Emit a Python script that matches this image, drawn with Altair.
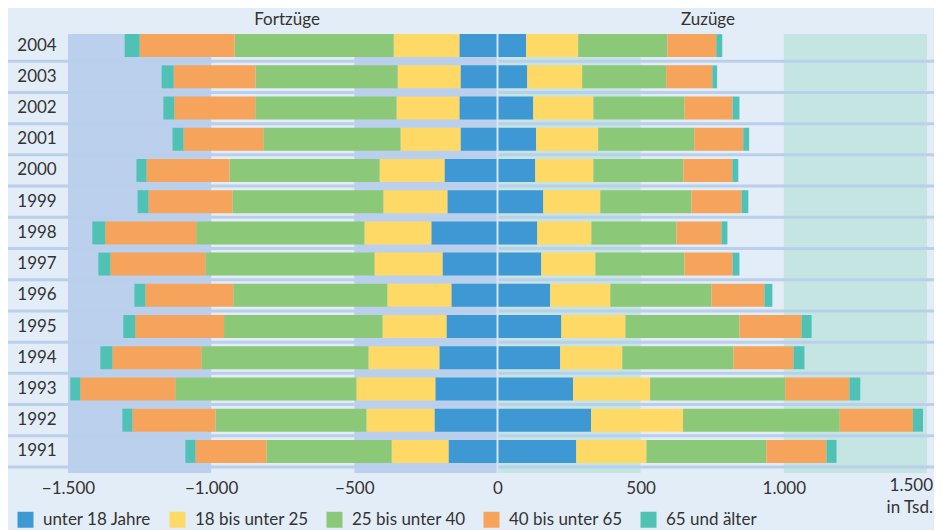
import altair as alt
import pandas as pd

years = [2004, 2003, 2002, 2001, 2000, 1999, 1998, 1997, 1996, 1995, 1994, 1993, 1992, 1991]
groups = ["unter 18 Jahre", "18 bis unter 25", "25 bis unter 40", "40 bis unter 65", "65 und älter"]
colors = ["#3d98d3", "#ffd966", "#8bc878", "#f6a35c", "#50c2b5"]

# Fortzüge (Tsd.)
out_u18 = [133, 129, 133, 129, 185, 175, 231, 192, 161, 178, 203, 217, 220, 171]
out_18_25 = [230, 220, 220, 210, 227, 224, 234, 238, 224, 224, 248, 276, 238, 199]
out_25_40 = [555, 496, 493, 479, 524, 527, 587, 590, 538, 553, 583, 632, 527, 437]
out_40_65 = [332, 286, 283, 279, 290, 293, 318, 332, 307, 310, 311, 332, 290, 248]
out_65 = [52, 42, 38, 38, 35, 38, 45, 42, 38, 42, 42, 35, 35, 35]

# Zuzüge (Tsd.)
in_u18 = [100, 104, 125, 135, 132, 160, 139, 153, 184, 223, 219, 264, 327, 275]
in_18_25 = [182, 192, 210, 217, 203, 199, 189, 189, 210, 224, 217, 269, 321, 245]
in_25_40 = [311, 293, 318, 335, 314, 318, 297, 311, 353, 398, 388, 472, 547, 419]
in_40_65 = [171, 161, 168, 171, 171, 175, 157, 168, 185, 217, 210, 224, 256, 210]
in_65 = [21, 17, 24, 21, 21, 24, 21, 24, 28, 35, 38, 38, 35, 35]

tick_values = [-1500, -1000, -500, 0, 500, 1000]
last_tick = "1.500"
unit_label = "in Tsd."
band_starts = [-1500, -500, 0, 1000]
band_ends = [-1000, 0, 500, 1500]
band_fills = ["#bad0ec", "#bad0ec", "#c5e5e3", "#c5e5e3"]
titles = ["Fortzüge", "Zuzüge"]
title_pos = [-735, 735]

out_series = [out_u18, out_18_25, out_25_40, out_40_65, out_65]
in_series = [in_u18, in_18_25, in_25_40, in_40_65, in_65]

rows = []
for gi, g in enumerate(groups):
    for yi, yr in enumerate(years):
        rows.append({"year": str(yr), "group": g, "value": -out_series[gi][yi], "idx": gi, "side": "out"})
        rows.append({"year": str(yr), "group": g, "value": in_series[gi][yi], "idx": gi, "side": "in"})
df = pd.DataFrame(rows)
df_years = pd.DataFrame({"year": [str(y) for y in years]})
df_bands = pd.DataFrame({"x0": band_starts, "x1": band_ends, "fill": band_fills})
df_titles = pd.DataFrame({"label": titles, "x": title_pos})

W = 926
H = 437
FONT = "Lato"
FS = 17
TXT = "#333333"
year_order = [str(y) for y in years]

xscale = alt.Scale(domain=[-1500, 1500], range=[60, 919], nice=False)
yscale = alt.Scale(domain=year_order, paddingInner=0.264, paddingOuter=0.132)

bands = alt.Chart(df_bands).mark_rect().encode(
    x=alt.X("x0:Q", scale=xscale,
            axis=alt.Axis(values=tick_values, labelExpr="replace(format(datum.value, ','), ',', '.')",
                          domain=False, ticks=False, grid=False, labelFontSize=FS, labelColor=TXT,
                          labelPadding=13, labelFont=FONT, labelFlush=False, title=None)),
    x2="x1:Q",
    y=alt.value(4),
    y2=alt.value(443),
    color=alt.Color("fill:N", scale=None),
)

seps = alt.Chart(df_years).mark_rule(color="#b9cfeb", strokeWidth=3, yOffset=15.6).encode(
    y=alt.Y("year:O", scale=yscale, axis=None),
    x=alt.value(0),
    x2=alt.value(W),
)

bars = alt.Chart(df).mark_bar().encode(
    x=alt.X("value:Q", scale=xscale, stack="zero"),
    y=alt.Y("year:O", scale=yscale, axis=None),
    color=alt.Color("group:N", scale=alt.Scale(domain=groups, range=colors),
                    legend=alt.Legend(orient="none", legendX=9, legendY=481, direction="horizontal",
                                      symbolType="square", symbolSize=256, symbolStrokeWidth=0,
                                      labelFontSize=FS, labelFont=FONT, labelColor=TXT, labelOffset=9,
                                      columnPadding=17, title=None, padding=0, symbolOpacity=1)),
    detail="side:N",
    order=alt.Order("idx:Q"),
)

zero = alt.Chart(pd.DataFrame({"x": [0]})).mark_rule(color="#d6e4f3", strokeWidth=2).encode(
    x=alt.X("x:Q", scale=xscale),
    y=alt.value(4),
    y2=alt.value(443),
)

year_labels = alt.Chart(df_years).mark_text(font=FONT, fontSize=FS, color=TXT, align="center").encode(
    y=alt.Y("year:O", scale=yscale, axis=None),
    x=alt.value(29),
    text="year:N",
)

title_text = alt.Chart(df_titles).mark_text(font=FONT, fontSize=FS, color=TXT, align="center").encode(
    x=alt.X("x:Q", scale=xscale),
    y=alt.value(-10),
    text="label:N",
)

last_text = alt.Chart(pd.DataFrame({"t": [last_tick]})).mark_text(
    font=FONT, fontSize=FS, color=TXT, align="right", baseline="middle").encode(
    x=alt.value(925),
    y=alt.value(456),
    text="t:N",
)

unit_text = alt.Chart(pd.DataFrame({"t": [unit_label]})).mark_text(
    font=FONT, fontSize=FS, color=TXT, align="right", baseline="middle").encode(
    x=alt.value(925),
    y=alt.value(478),
    text="t:N",
)

chart = alt.layer(bands, seps, bars, zero, year_labels, title_text, last_text, unit_text).properties(
    width=W, height=H,
    autosize=alt.AutoSizeParams(type="none"),
    padding={"left": 0, "top": 22, "right": 0, "bottom": 63},
    background="#e3edf7",
).configure_view(stroke=None).configure_legend(padding=0)

chart.save("out.html", embed_options={"renderer": "svg", "actions": False})
